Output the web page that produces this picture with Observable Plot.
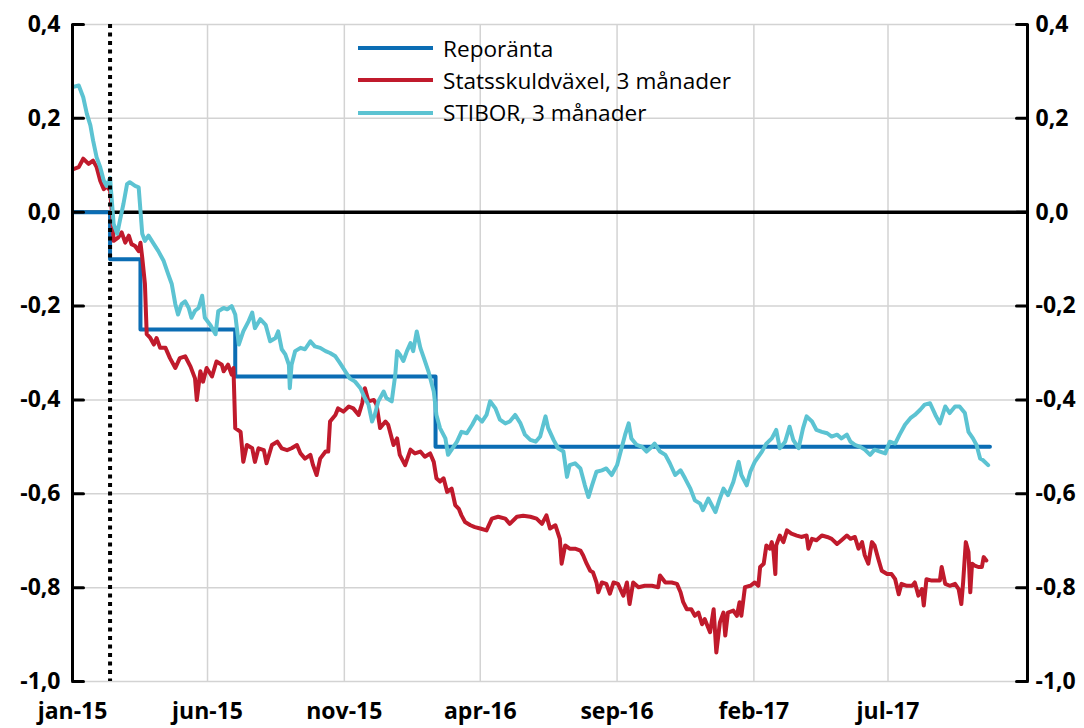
<!DOCTYPE html>
<html><head><meta charset="utf-8">
<script src="https://cdn.jsdelivr.net/npm/d3@7"></script>
<script src="https://cdn.jsdelivr.net/npm/@observablehq/plot@0.6"></script>
<style>
body{margin:0;background:#fff;}
#wrap{position:relative;width:1084px;height:728px;overflow:hidden;}
.row{position:absolute;display:flex;align-items:center;height:32px;font-family:"Open Sans",sans-serif;font-size:22.6px;color:#000;white-space:nowrap;}
.sw{width:75px;height:4px;margin-right:10px;}
</style></head><body><div id="wrap"></div>
<script>
const xTickDates = ["2015-01-01","2015-06-01","2015-11-01","2016-04-01","2016-09-01","2017-02-01","2017-07-01"];
const xTickLabels = ["jan-15","jun-15","nov-15","apr-16","sep-16","feb-17","jul-17"];
const yTicks = [0.4,0.2,0,-0.2,-0.4,-0.6,-0.8,-1.0];
const xDomain = ["2015-01-01","2017-12-04"];
const announceDate = "2015-02-12";
const seriesNames = ["Reporänta","Statsskuldväxel, 3 månader","STIBOR, 3 månader"];
const seriesColors = ["#0b6db4","#c01a2c","#5cc3d2"];

const repo = [["2015-01-02",0],["2015-02-12",-0.10],["2015-03-18",-0.25],["2015-07-02",-0.35],["2016-02-11",-0.50],["2017-10-23",-0.50]];

const statsskuld = [["2015-01-02",0.092],["2015-01-08",0.096],["2015-01-13",0.114],["2015-01-19",0.103],["2015-01-24",0.11],["2015-01-28",0.096],["2015-02-01",0.067],["2015-02-05",0.049],["2015-02-08",0.056],["2015-02-12",0.046],["2015-02-14",0.003],["2015-02-16",-0.061],["2015-02-21",-0.054],["2015-02-25",-0.043],["2015-03-01",-0.065],["2015-03-05",-0.05],["2015-03-08",-0.068],["2015-03-12",-0.072],["2015-03-16",-0.083],["2015-03-18",-0.065],["2015-03-20",-0.097],["2015-03-23",-0.153],["2015-03-25",-0.26],["2015-03-29",-0.268],["2015-04-02",-0.282],["2015-04-05",-0.268],["2015-04-09",-0.289],["2015-04-15",-0.289],["2015-04-20",-0.311],["2015-04-26",-0.332],["2015-05-01",-0.311],["2015-05-07",-0.307],["2015-05-13",-0.329],["2015-05-18",-0.354],["2015-05-20",-0.4],["2015-05-24",-0.339],["2015-05-27",-0.361],["2015-05-31",-0.332],["2015-06-06",-0.35],["2015-06-11",-0.318],["2015-06-17",-0.325],["2015-06-19",-0.339],["2015-06-24",-0.325],["2015-06-28",-0.346],["2015-06-30",-0.332],["2015-07-02",-0.46],["2015-07-08",-0.468],["2015-07-11",-0.532],["2015-07-15",-0.496],["2015-07-21",-0.503],["2015-07-24",-0.532],["2015-07-28",-0.503],["2015-08-03",-0.507],["2015-08-06",-0.535],["2015-08-12",-0.496],["2015-08-18",-0.489],["2015-08-23",-0.503],["2015-08-29",-0.507],["2015-09-03",-0.503],["2015-09-09",-0.496],["2015-09-13",-0.514],["2015-09-18",-0.525],["2015-09-24",-0.517],["2015-09-27",-0.539],["2015-10-01",-0.56],["2015-10-05",-0.525],["2015-10-11",-0.51],["2015-10-14",-0.51],["2015-10-16",-0.446],["2015-10-22",-0.432],["2015-10-25",-0.418],["2015-10-31",-0.425],["2015-11-06",-0.414],["2015-11-11",-0.418],["2015-11-17",-0.432],["2015-11-21",-0.407],["2015-11-24",-0.375],["2015-11-28",-0.403],["2015-12-04",-0.4],["2015-12-07",-0.41],["2015-12-11",-0.46],["2015-12-17",-0.446],["2015-12-20",-0.453],["2015-12-26",-0.496],["2015-12-30",-0.482],["2016-01-02",-0.517],["2016-01-08",-0.539],["2016-01-14",-0.506],["2016-01-19",-0.514],["2016-01-25",-0.51],["2016-01-30",-0.521],["2016-02-05",-0.514],["2016-02-09",-0.532],["2016-02-12",-0.567],["2016-02-16",-0.574],["2016-02-20",-0.567],["2016-02-24",-0.596],["2016-02-29",-0.589],["2016-03-04",-0.624],["2016-03-08",-0.632],["2016-03-11",-0.646],["2016-03-15",-0.66],["2016-03-21",-0.667],["2016-03-26",-0.671],["2016-04-01",-0.674],["2016-04-08",-0.678],["2016-04-14",-0.653],["2016-04-21",-0.649],["2016-04-29",-0.653],["2016-05-04",-0.664],["2016-05-12",-0.649],["2016-05-19",-0.647],["2016-05-27",-0.649],["2016-06-03",-0.653],["2016-06-09",-0.664],["2016-06-14",-0.646],["2016-06-18",-0.674],["2016-06-24",-0.667],["2016-06-29",-0.696],["2016-07-01",-0.749],["2016-07-05",-0.71],["2016-07-10",-0.717],["2016-07-16",-0.717],["2016-07-22",-0.721],["2016-07-25",-0.731],["2016-07-29",-0.749],["2016-08-02",-0.764],["2016-08-05",-0.767],["2016-08-09",-0.789],["2016-08-11",-0.81],["2016-08-15",-0.789],["2016-08-20",-0.792],["2016-08-24",-0.813],["2016-08-28",-0.789],["2016-09-02",-0.792],["2016-09-08",-0.817],["2016-09-12",-0.789],["2016-09-15",-0.835],["2016-09-19",-0.789],["2016-09-25",-0.799],["2016-10-02",-0.796],["2016-10-10",-0.796],["2016-10-17",-0.799],["2016-10-19",-0.774],["2016-10-25",-0.789],["2016-11-01",-0.789],["2016-11-07",-0.792],["2016-11-11",-0.81],["2016-11-14",-0.831],["2016-11-18",-0.846],["2016-11-23",-0.846],["2016-11-27",-0.86],["2016-12-01",-0.853],["2016-12-05",-0.878],["2016-12-08",-0.867],["2016-12-14",-0.895],["2016-12-18",-0.846],["2016-12-21",-0.938],["2016-12-25",-0.874],["2016-12-29",-0.853],["2016-12-31",-0.902],["2017-01-03",-0.853],["2017-01-09",-0.849],["2017-01-13",-0.86],["2017-01-16",-0.831],["2017-01-18",-0.86],["2017-01-22",-0.799],["2017-01-28",-0.796],["2017-02-02",-0.789],["2017-02-06",-0.796],["2017-02-08",-0.756],["2017-02-12",-0.749],["2017-02-15",-0.71],["2017-02-19",-0.717],["2017-02-21",-0.703],["2017-02-23",-0.724],["2017-02-25",-0.771],["2017-02-26",-0.71],["2017-03-02",-0.689],["2017-03-06",-0.703],["2017-03-10",-0.678],["2017-03-15",-0.685],["2017-03-21",-0.689],["2017-03-26",-0.692],["2017-04-01",-0.689],["2017-04-03",-0.717],["2017-04-07",-0.696],["2017-04-12",-0.699],["2017-04-18",-0.689],["2017-04-24",-0.692],["2017-04-29",-0.696],["2017-05-05",-0.707],["2017-05-10",-0.699],["2017-05-16",-0.689],["2017-05-20",-0.696],["2017-05-25",-0.692],["2017-05-29",-0.717],["2017-06-02",-0.703],["2017-06-05",-0.731],["2017-06-09",-0.749],["2017-06-13",-0.703],["2017-06-16",-0.71],["2017-06-20",-0.738],["2017-06-24",-0.764],["2017-06-30",-0.771],["2017-07-05",-0.771],["2017-07-09",-0.782],["2017-07-13",-0.814],["2017-07-16",-0.792],["2017-07-22",-0.796],["2017-07-28",-0.796],["2017-07-31",-0.789],["2017-08-04",-0.817],["2017-08-08",-0.803],["2017-08-10",-0.838],["2017-08-13",-0.782],["2017-08-19",-0.785],["2017-08-24",-0.785],["2017-08-28",-0.785],["2017-08-30",-0.756],["2017-09-03",-0.792],["2017-09-08",-0.796],["2017-09-14",-0.792],["2017-09-18",-0.803],["2017-09-21",-0.835],["2017-09-23",-0.789],["2017-09-26",-0.703],["2017-09-29",-0.724],["2017-10-01",-0.81],["2017-10-03",-0.749],["2017-10-06",-0.753],["2017-10-10",-0.756],["2017-10-14",-0.756],["2017-10-16",-0.735],["2017-10-19",-0.742]];

const stibor = [["2015-01-02",0.267],["2015-01-08",0.27],["2015-01-13",0.245],["2015-01-17",0.21],["2015-01-21",0.185],["2015-01-24",0.153],["2015-01-28",0.117],["2015-02-01",0.096],["2015-02-05",0.067],["2015-02-08",0.056],["2015-02-12",0.073],["2015-02-16",-0.025],["2015-02-20",-0.046],["2015-02-23",-0.018],["2015-02-27",0.018],["2015-03-03",0.06],["2015-03-06",0.064],["2015-03-12",0.056],["2015-03-16",0.053],["2015-03-20",-0.046],["2015-03-23",-0.061],["2015-03-27",-0.05],["2015-04-02",-0.068],["2015-04-07",-0.083],["2015-04-13",-0.104],["2015-04-18",-0.132],["2015-04-22",-0.153],["2015-04-26",-0.196],["2015-04-29",-0.218],["2015-05-03",-0.196],["2015-05-07",-0.19],["2015-05-11",-0.204],["2015-05-14",-0.225],["2015-05-18",-0.21],["2015-05-22",-0.204],["2015-05-26",-0.178],["2015-05-29",-0.225],["2015-06-04",-0.24],["2015-06-10",-0.26],["2015-06-13",-0.211],["2015-06-19",-0.204],["2015-06-23",-0.207],["2015-06-28",-0.2],["2015-07-02",-0.218],["2015-07-06",-0.282],["2015-07-11",-0.254],["2015-07-17",-0.232],["2015-07-21",-0.214],["2015-07-24",-0.247],["2015-07-30",-0.228],["2015-08-05",-0.24],["2015-08-10",-0.275],["2015-08-16",-0.268],["2015-08-19",-0.254],["2015-08-23",-0.292],["2015-08-27",-0.303],["2015-08-31",-0.325],["2015-09-01",-0.375],["2015-09-03",-0.325],["2015-09-07",-0.296],["2015-09-13",-0.289],["2015-09-18",-0.292],["2015-09-24",-0.275],["2015-09-29",-0.286],["2015-10-05",-0.289],["2015-10-11",-0.296],["2015-10-16",-0.3],["2015-10-22",-0.307],["2015-10-27",-0.321],["2015-11-02",-0.339],["2015-11-07",-0.354],["2015-11-13",-0.361],["2015-11-19",-0.375],["2015-11-24",-0.396],["2015-11-28",-0.41],["2015-12-02",-0.446],["2015-12-05",-0.432],["2015-12-09",-0.403],["2015-12-15",-0.382],["2015-12-18",-0.396],["2015-12-24",-0.403],["2015-12-28",-0.346],["2015-12-30",-0.296],["2016-01-02",-0.303],["2016-01-06",-0.317],["2016-01-10",-0.296],["2016-01-14",-0.279],["2016-01-17",-0.296],["2016-01-21",-0.254],["2016-01-25",-0.289],["2016-01-29",-0.311],["2016-02-03",-0.339],["2016-02-09",-0.382],["2016-02-12",-0.432],["2016-02-16",-0.46],["2016-02-22",-0.482],["2016-02-25",-0.517],["2016-02-29",-0.506],["2016-03-06",-0.489],["2016-03-11",-0.468],["2016-03-17",-0.471],["2016-03-23",-0.453],["2016-03-28",-0.435],["2016-04-03",-0.446],["2016-04-08",-0.432],["2016-04-12",-0.403],["2016-04-18",-0.418],["2016-04-23",-0.442],["2016-04-29",-0.45],["2016-05-04",-0.446],["2016-05-10",-0.432],["2016-05-16",-0.45],["2016-05-21",-0.474],["2016-05-27",-0.485],["2016-06-02",-0.489],["2016-06-07",-0.478],["2016-06-13",-0.435],["2016-06-16",-0.46],["2016-06-22",-0.485],["2016-06-27",-0.503],["2016-07-03",-0.51],["2016-07-07",-0.564],["2016-07-10",-0.539],["2016-07-16",-0.535],["2016-07-22",-0.546],["2016-07-27",-0.582],["2016-07-31",-0.607],["2016-08-04",-0.582],["2016-08-09",-0.553],["2016-08-15",-0.55],["2016-08-20",-0.546],["2016-08-26",-0.56],["2016-09-01",-0.539],["2016-09-06",-0.503],["2016-09-10",-0.474],["2016-09-14",-0.45],["2016-09-17",-0.482],["2016-09-23",-0.496],["2016-09-29",-0.5],["2016-10-04",-0.51],["2016-10-10",-0.5],["2016-10-13",-0.493],["2016-10-19",-0.51],["2016-10-25",-0.517],["2016-10-30",-0.535],["2016-11-05",-0.56],["2016-11-11",-0.55],["2016-11-16",-0.567],["2016-11-22",-0.589],["2016-11-27",-0.614],["2016-12-03",-0.621],["2016-12-06",-0.635],["2016-12-12",-0.61],["2016-12-20",-0.639],["2016-12-25",-0.61],["2016-12-29",-0.589],["2017-01-03",-0.603],["2017-01-09",-0.575],["2017-01-15",-0.532],["2017-01-18",-0.56],["2017-01-24",-0.582],["2017-01-28",-0.553],["2017-02-02",-0.532],["2017-02-10",-0.51],["2017-02-15",-0.493],["2017-02-21",-0.482],["2017-02-26",-0.464],["2017-03-02",-0.503],["2017-03-08",-0.489],["2017-03-13",-0.457],["2017-03-17",-0.485],["2017-03-23",-0.503],["2017-03-28",-0.46],["2017-04-01",-0.435],["2017-04-07",-0.446],["2017-04-12",-0.464],["2017-04-18",-0.468],["2017-04-24",-0.471],["2017-04-29",-0.478],["2017-05-05",-0.474],["2017-05-10",-0.482],["2017-05-16",-0.474],["2017-05-20",-0.489],["2017-05-25",-0.496],["2017-05-31",-0.5],["2017-06-05",-0.506],["2017-06-11",-0.517],["2017-06-16",-0.506],["2017-06-22",-0.51],["2017-06-28",-0.514],["2017-06-30",-0.503],["2017-07-03",-0.489],["2017-07-09",-0.493],["2017-07-14",-0.474],["2017-07-20",-0.453],["2017-07-26",-0.439],["2017-07-31",-0.432],["2017-08-06",-0.421],["2017-08-11",-0.41],["2017-08-17",-0.407],["2017-08-23",-0.432],["2017-08-28",-0.45],["2017-09-03",-0.414],["2017-09-08",-0.428],["2017-09-14",-0.414],["2017-09-19",-0.414],["2017-09-25",-0.428],["2017-09-29",-0.468],["2017-10-04",-0.482],["2017-10-08",-0.496],["2017-10-12",-0.525],["2017-10-15",-0.528],["2017-10-21",-0.539]];

const parse = d3.utcParse("%Y-%m-%d");
const iso = d3.utcFormat("%Y-%m-%d");
const rows = arr => arr.map(([d, v]) => ({date: parse(d), value: v}));
const x0 = parse(xDomain[0]), x1 = parse(xDomain[1]);
const yFmt = d => d.toFixed(1).replace(".", ",");
const xFmt = d => xTickLabels[xTickDates.indexOf(iso(d))];
const gridColor = "#d3d3d3";
const tickShape = {draw(context, l) { context.moveTo(0, 0); context.lineTo(0, -l); }};

const plot = Plot.plot({
  width: 1084, height: 728,
  marginLeft: 72, marginRight: 57, marginTop: 24, marginBottom: 47,
  style: {fontFamily: "'Open Sans', sans-serif", fontWeight: 700, fontSize: "23px", background: "white", color: "#000"},
  x: {type: "utc", domain: [x0, x1], label: null},
  y: {domain: [-1, 0.4], label: null},
  marks: [
    Plot.ruleY(yTicks.filter(d => d !== 0), {stroke: gridColor, strokeWidth: 1.5}),
    Plot.ruleX(xTickDates.slice(1).map(parse), {stroke: gridColor, strokeWidth: 1.5}),
    Plot.ruleY([0], {stroke: "#000", strokeWidth: 3.5}),
    Plot.line(rows(repo), {x: "date", y: "value", stroke: seriesColors[0], strokeWidth: 4, curve: "step-after"}),
    Plot.line(rows(statsskuld), {x: "date", y: "value", stroke: seriesColors[1], strokeWidth: 4, strokeLinejoin: "round"}),
    Plot.line(rows(stibor), {x: "date", y: "value", stroke: seriesColors[2], strokeWidth: 4, strokeLinejoin: "round"}),
    Plot.ruleX([parse(announceDate)], {stroke: "#000", strokeWidth: 4, strokeDasharray: "4,4.5"}),
    Plot.ruleX([x0, x1], {stroke: "#000", strokeWidth: 3}),
    Plot.vector(yTicks, {x: () => x0, y: d => d, length: 11, rotate: 90, anchor: "start", shape: tickShape, stroke: "#000", strokeWidth: 3}),
    Plot.vector(yTicks, {x: () => x1, y: d => d, length: 11, rotate: -90, anchor: "start", shape: tickShape, stroke: "#000", strokeWidth: 3}),
    Plot.axisY(yTicks, {anchor: "left", tickSize: 0, tickPadding: 12, tickFormat: yFmt, label: null}),
    Plot.axisY(yTicks, {anchor: "right", tickSize: 0, tickPadding: 8, tickFormat: yFmt, label: null}),
    Plot.axisX(xTickDates.map(parse), {anchor: "bottom", tickSize: 0, tickPadding: 21, tickFormat: xFmt, label: null})
  ]
});
const wrap = document.getElementById("wrap");
wrap.appendChild(plot);
seriesNames.forEach((name, i) => {
  const row = document.createElement("div");
  row.className = "row";
  row.style.left = "358px";
  row.style.top = (32 + i * 32.3) + "px";
  const sw = document.createElement("div");
  sw.className = "sw";
  sw.style.background = seriesColors[i];
  const t = document.createElement("span");
  t.textContent = name;
  row.appendChild(sw); row.appendChild(t);
  wrap.appendChild(row);
});
</script></body></html>
